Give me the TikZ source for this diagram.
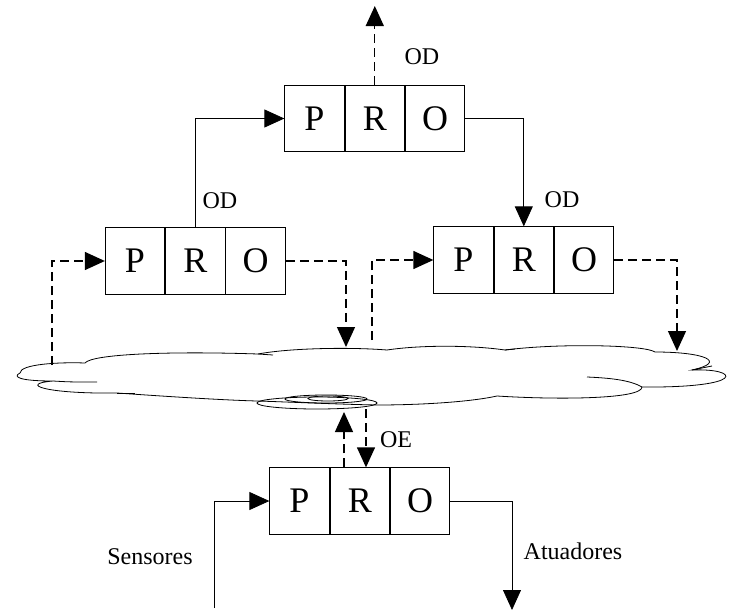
\documentclass[tikz,border=0pt]{standalone}
\usepackage{fontspec}
\setmainfont{Liberation Serif}
\usetikzlibrary{positioning,arrows.meta}

\begin{document}
\begin{tikzpicture}[x=1pt,y=-1pt,
  cell/.style={draw,line width=0.8pt,minimum width=59.5pt,minimum height=66.5pt,inner sep=0pt,font=\fontsize{36}{36}\selectfont},
  lbl/.style={font=\fontsize{24}{24}\selectfont,inner sep=0pt},
  arrow/.style={line width=0.8pt,-{Triangle[length=20pt,width=18pt]}},
  dasharrow/.style={arrow,line width=1.3pt,dash pattern=on 9pt off 5pt},
  node distance=0pt]

 \useasboundingbox (0,0) rectangle (737,611);

 % the four P-R-O blocks
 \node[cell] (topP) at (314.5,118.5) {P};
 \node[cell,right=0pt of topP] (topR) {R};
 \node[cell,right=0pt of topR] (topO) {O};

 \node[cell] (leftP) at (135,261) {P};
 \node[cell,right=0pt of leftP] (leftR) {R};
 \node[cell,right=0pt of leftR] (leftO) {O};

 \node[cell] (rightP) at (463.5,260) {P};
 \node[cell,right=0pt of rightP] (rightR) {R};
 \node[cell,right=0pt of rightR] (rightO) {O};

 \node[cell] (botP) at (299.5,501) {P};
 \node[cell,right=0pt of botP] (botR) {R};
 \node[cell,right=0pt of botR] (botO) {O};

 % cloud
 \draw[line width=0.8pt]
   (20,373) .. controls (20,364) and (60,362) .. (85,363)
   .. controls (92,354) and (170,351) .. (258,354)
   .. controls (290,348) and (350,347) .. (387,350)
   .. controls (420,345) and (470,345) .. (505,350)
   .. controls (560,343) and (645,345) .. (655,352)
   .. controls (705,352) and (728,362) .. (692,370)
   .. controls (740,368) and (748,388) .. (642,387)
   .. controls (642,399) and (560,400) .. (497,396)
   .. controls (470,402) and (420,405) .. (377,405)
   .. controls (330,404) and (290,402) .. (257,401)
   .. controls (220,400) and (160,396) .. (117,393)
   .. controls (45,394) and (18,384) .. (53,381)
   .. controls (20,381) and (12,377) .. (20,373) -- cycle;
 \draw[line width=0.8pt] (642,387) .. controls (630,380) and (610,378) .. (587,377);
 \draw[line width=0.8pt] (53,381) .. controls (70,382) .. (97,382);
 \draw[line width=0.8pt] (117,393) -- (135,393);
 \draw[line width=0.8pt] (692,370) -- (712,366);
 \draw[line width=0.8pt] (258,354) -- (273,355);
 \draw[line width=0.8pt] (505,350) -- (515,349);
 \draw[line width=0.8pt] (317,403) ellipse (60 and 6);
 \draw[line width=0.8pt] (326,399) ellipse (41 and 4);
 \draw[line width=0.8pt] (328,398.5) ellipse (20 and 2.5);

 % end points on the cloud and outside
 \coordinate (up) at (374,6);
 \coordinate (inLeft) at (52,365);
 \coordinate (downLeft) at (346,347);
 \coordinate (inRight) at (372,340);
 \coordinate (downRight) at (677,351);
 \coordinate (oeUp) at (344,412);
 \coordinate (oeDown) at (366,409);
 \coordinate (sens) at (214,608);
 \coordinate (atua) at (512,610);

 % connectors
 \draw[dasharrow] (topR.north) -- (topR.north |- up);
 \draw[arrow] (leftR.north) |- (topP.west);
 \draw[arrow] (topO.east) -| (rightR.north);
 \draw[dasharrow] (inLeft) |- (leftP.west);
 \draw[dasharrow] (leftO.east) -| (downLeft);
 \draw[dasharrow] (inRight) |- (rightP.west);
 \draw[dasharrow] (rightO.east) -| (downRight);
 \draw[dasharrow] (oeUp |- botR.north) -- (oeUp);
 \draw[dasharrow] (oeDown) -- (oeDown |- botR.north);
 \draw[arrow] (sens) |- (botP.west);
 \draw[arrow] (botO.east) -| (atua);

 % labels
 \node[lbl] (odTop) at (422,57) {OD};
 \node[lbl] (odLeft) at (220,201) {OD};
 \node[lbl] (odRight) at (562,200) {OD};
 \node[lbl] (oe) at (396,440) {OE};
 \node[lbl] (sensLbl) at (150,557) {Sensores};
 \node[lbl] (atuaLbl) at (573,551) {Atuadores};
\end{tikzpicture}
\end{document}
